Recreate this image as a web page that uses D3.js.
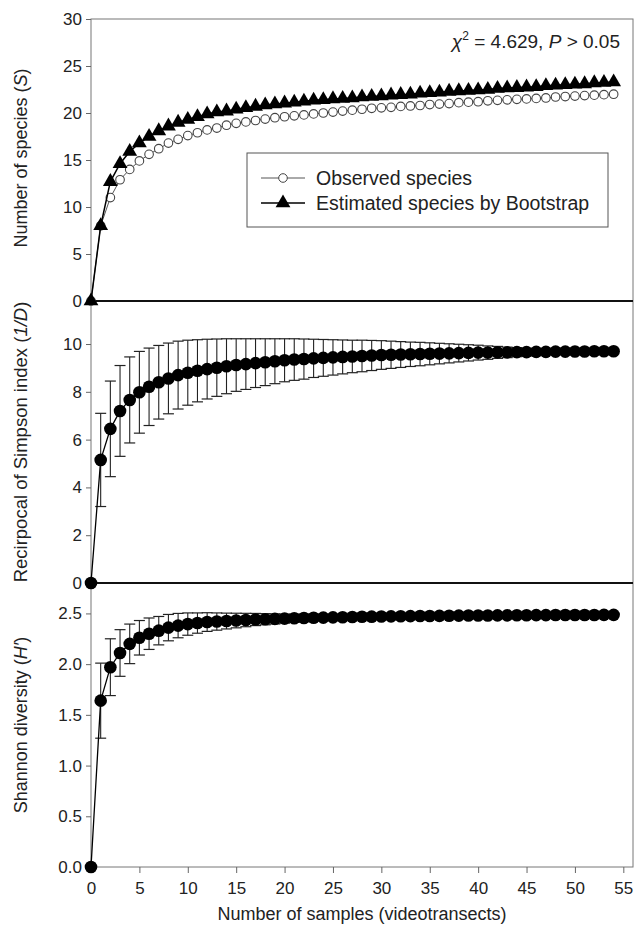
<!DOCTYPE html>
<html>
<head>
<meta charset="utf-8">
<script src="https://d3js.org/d3.v7.min.js"></script>
<style>
    body { margin: 0; background: #fff; }
    svg text { font-family: "Liberation Sans", Arial, sans-serif; fill: #222; }
    .tick line { stroke: #666; }
</style>
</head>
<body>
<svg id="chart" width="642" height="939"></svg>
<script>
// samples 0..54
let samples = d3.range(0, 55);

let observed = [0, 8.0, 11.0, 12.9, 14.0, 14.9, 15.6, 16.2, 16.8, 17.2,
    17.6, 17.9, 18.2, 18.4, 18.7, 18.9, 19.05, 19.2, 19.35, 19.5,
    19.6, 19.7, 19.8, 19.9, 20.0, 20.1, 20.2, 20.3, 20.4, 20.5,
    20.55, 20.6, 20.7, 20.75, 20.8, 20.9, 20.95, 21.0, 21.1, 21.15,
    21.2, 21.3, 21.35, 21.4, 21.45, 21.5, 21.55, 21.6, 21.7, 21.75,
    21.8, 21.85, 21.9, 21.95, 22.0];

let bootstrap = [0, 8.0, 12.7, 14.6, 15.9, 16.8, 17.5, 18.1, 18.6, 19.0,
    19.3, 19.6, 19.9, 20.1, 20.2, 20.4, 20.55, 20.7, 20.85, 20.95,
    21.05, 21.15, 21.25, 21.35, 21.4, 21.5, 21.55, 21.6, 21.7, 21.75,
    21.8, 21.9, 21.95, 22.0, 22.1, 22.15, 22.2, 22.3, 22.35, 22.4,
    22.45, 22.5, 22.6, 22.65, 22.7, 22.75, 22.8, 22.9, 22.95, 23.0,
    23.05, 23.1, 23.2, 23.25, 23.3];

let simpson = [0, 5.15, 6.45, 7.2, 7.66, 7.98, 8.21, 8.4, 8.56, 8.7,
    8.8, 8.88, 8.95, 9.01, 9.07, 9.12, 9.16, 9.2, 9.24, 9.28,
    9.32, 9.35, 9.37, 9.4, 9.42, 9.44, 9.46, 9.48, 9.5, 9.52,
    9.54, 9.55, 9.56, 9.57, 9.58, 9.59, 9.6, 9.61, 9.62, 9.63,
    9.64, 9.64, 9.65, 9.65, 9.66, 9.66, 9.67, 9.67, 9.68, 9.68,
    9.69, 9.69, 9.7, 9.7, 9.7];

let simpsonSD = [0, 1.95, 2.0, 1.9, 1.8, 1.71, 1.62, 1.54, 1.48, 1.42,
    1.36, 1.3, 1.25, 1.2, 1.15, 1.1, 1.06, 1.02, 0.98, 0.94,
    0.9, 0.87, 0.84, 0.8, 0.77, 0.74, 0.71, 0.68, 0.66, 0.63,
    0.6, 0.57, 0.54, 0.51, 0.49, 0.46, 0.43, 0.4, 0.37, 0.34,
    0.31, 0.28, 0.25, 0.22, 0.19, 0.16, 0.13, 0.1, 0.07, 0.05,
    0.03, 0.02, 0.01, 0, 0];

let shannon = [0, 1.64, 1.97, 2.11, 2.2, 2.26, 2.3, 2.33, 2.36, 2.38,
    2.395, 2.405, 2.415, 2.42, 2.425, 2.43, 2.435, 2.44, 2.443, 2.446,
    2.449, 2.452, 2.455, 2.457, 2.459, 2.461, 2.463, 2.465, 2.467, 2.468,
    2.47, 2.471, 2.472, 2.473, 2.474, 2.475, 2.476, 2.477, 2.478, 2.479,
    2.48, 2.48, 2.481, 2.481, 2.482, 2.482, 2.483, 2.483, 2.484, 2.484,
    2.485, 2.485, 2.485, 2.486, 2.486];

let shannonSD = [0, 0.37, 0.28, 0.23, 0.195, 0.17, 0.155, 0.14, 0.13, 0.12,
    0.11, 0.1, 0.092, 0.085, 0.078, 0.072, 0.066, 0.06, 0.055, 0.05,
    0.045, 0.04, 0.036, 0.032, 0.028, 0.025, 0.022, 0.019, 0.016, 0.014,
    0.012, 0.01, 0.008, 0.006, 0.005, 0.004, 0.003, 0.002, 0.001, 0,
    0, 0, 0, 0, 0, 0, 0, 0, 0, 0,
    0, 0, 0, 0, 0];

let xTicks = d3.range(0, 56, 5);
let speciesTicks = [0, 5, 10, 15, 20, 25, 30];
let simpsonTicks = [0, 2, 4, 6, 8, 10];
let shannonTicks = [0, 0.5, 1.0, 1.5, 2.0, 2.5];

let legendLabels = ["Observed species", "Estimated species by Bootstrap"];

let svg = d3.select("#chart");
let left = 91, right = 633;

let x = d3.scaleLinear().domain([0, 56]).range([left, right]);

let panels = [
    {y: d3.scaleLinear().domain([0, 30]).range([301, 19]), ticks: speciesTicks, fmt: d3.format("d")},
    {y: d3.scaleLinear().domain([0, 11.8]).range([583, 301]), ticks: simpsonTicks, fmt: d3.format("d")},
    {y: d3.scaleLinear().domain([0, 2.8]).range([867, 583]), ticks: shannonTicks, fmt: d3.format(".1f")}
];

// frame
svg.append("rect")
    .attr("x", left).attr("y", 19)
    .attr("width", right - left).attr("height", 867 - 19)
    .attr("fill", "none").attr("stroke", "#777").attr("stroke-width", 1);

panels.forEach(function(p) {
    let g = svg.append("g")
        .attr("transform", "translate(" + left + ",0)")
        .call(d3.axisLeft(p.y).tickValues(p.ticks).tickFormat(p.fmt).tickSize(5).tickPadding(4));
    g.select(".domain").remove();
    g.selectAll("text").style("font-size", "17px");
});

// x axis at bottom
let xg = svg.append("g")
    .attr("transform", "translate(0,867)")
    .call(d3.axisBottom(x).tickValues(xTicks).tickSize(6).tickPadding(9));
xg.select(".domain").remove();
xg.selectAll("text").style("font-size", "17px");

// thick zero lines between panels
[301, 583].forEach(function(yy) {
    svg.append("line")
        .attr("x1", left).attr("x2", right)
        .attr("y1", yy).attr("y2", yy)
        .attr("stroke", "#111").attr("stroke-width", 2);
});

// ---- top panel
let y1 = panels[0].y;
let line1 = d3.line().x(function(d, i) { return x(samples[i]); }).y(function(d) { return y1(d); });

svg.append("path").datum(observed)
    .attr("d", line1).attr("fill", "none").attr("stroke", "#555").attr("stroke-width", 1);
svg.append("g").selectAll("circle")
    .data(observed)
    .enter().append("circle")
    .attr("cx", function(d, i) { return x(samples[i]); })
    .attr("cy", function(d) { return y1(d); })
    .attr("r", 4.3)
    .attr("fill", "#fff").attr("stroke", "#444").attr("stroke-width", 1.1);

svg.append("path").datum(bootstrap)
    .attr("d", line1).attr("fill", "none").attr("stroke", "#000").attr("stroke-width", 1.5);
let tri = d3.symbol().type(d3.symbolTriangle).size(95);
svg.append("g").selectAll("path")
    .data(bootstrap)
    .enter().append("path")
    .attr("d", tri)
    .attr("transform", function(d, i) { return "translate(" + x(samples[i]) + "," + y1(d) + ")"; })
    .attr("fill", "#000");

// chi square note
let chi = svg.append("text")
    .attr("x", 620).attr("y", 48)
    .attr("text-anchor", "end")
    .style("font-size", "19px");
chi.append("tspan").style("font-style", "italic").text("χ");
chi.append("tspan").attr("dy", -8).style("font-size", "12px").text("2");
chi.append("tspan").attr("dy", 8).text(" = 4.629, ");
chi.append("tspan").style("font-style", "italic").text("P");
chi.append("tspan").text(" > 0.05");

// legend
let lg = svg.append("g");
lg.append("rect")
    .attr("x", 247).attr("y", 153)
    .attr("width", 361).attr("height", 74)
    .attr("fill", "#fff").attr("stroke", "#555").attr("stroke-width", 1);
legendLabels.forEach(function(lab, i) {
    let ly = 178 + i * 25;
    lg.append("line")
        .attr("x1", 261).attr("x2", 305).attr("y1", ly).attr("y2", ly)
        .attr("stroke", i === 0 ? "#555" : "#000").attr("stroke-width", i === 0 ? 1 : 1.5);
    if (i === 0) {
        lg.append("circle").attr("cx", 283).attr("cy", ly).attr("r", 4.3)
            .attr("fill", "#fff").attr("stroke", "#444");
    } else {
        lg.append("path").attr("d", tri).attr("transform", "translate(283," + ly + ")").attr("fill", "#000");
    }
    lg.append("text")
        .attr("x", 316).attr("y", ly + 7)
        .style("font-size", "19.5px")
        .text(lab);
});

// ---- mean + error bar panels
function drawMeans(vals, sds, y) {
    let g = svg.append("g");
    let rows = vals.map(function(v, i) { return {s: samples[i], m: v, sd: sds[i]}; })
        .filter(function(r) { return r.sd > 0; });
    let bars = g.selectAll(".eb")
        .data(rows)
        .enter().append("g");
    bars.append("line")
        .attr("x1", function(r) { return x(r.s); }).attr("x2", function(r) { return x(r.s); })
        .attr("y1", function(r) { return y(r.m - r.sd); }).attr("y2", function(r) { return y(r.m + r.sd); })
        .attr("stroke", "#222").attr("stroke-width", 1.1);
    [-1, 1].forEach(function(sign) {
        bars.append("line")
            .attr("x1", function(r) { return x(r.s) - 5.5; }).attr("x2", function(r) { return x(r.s) + 5.5; })
            .attr("y1", function(r) { return y(r.m + sign * r.sd); }).attr("y2", function(r) { return y(r.m + sign * r.sd); })
            .attr("stroke", "#222").attr("stroke-width", 1.2);
    });
    g.append("path").datum(vals)
        .attr("d", d3.line().x(function(d, i) { return x(samples[i]); }).y(function(d) { return y(d); }))
        .attr("fill", "none").attr("stroke", "#000").attr("stroke-width", 1.3);
    g.selectAll("circle")
        .data(vals)
        .enter().append("circle")
        .attr("cx", function(d, i) { return x(samples[i]); })
        .attr("cy", function(d) { return y(d); })
        .attr("r", 6.3)
        .attr("fill", "#000");
}
drawMeans(simpson, simpsonSD, panels[1].y);
drawMeans(shannon, shannonSD, panels[2].y);

// axis titles
function yTitle(cy, parts, size) {
    let t = svg.append("text")
        .attr("transform", "translate(27," + cy + ") rotate(-90)")
        .attr("text-anchor", "middle")
        .style("font-size", size + "px");
    parts.forEach(function(p) {
        t.append("tspan").style("font-style", p[1] ? "italic" : "normal").text(p[0]);
    });
}
yTitle(158, [["Number of species (", 0], ["S", 1], [")", 0]], 18);
yTitle(442, [["Recirpocal of Simpson index (", 0], ["1/D", 1], [")", 0]], 18.5);
yTitle(725, [["Shannon diversity (", 0], ["H\u2032", 1], [")", 0]], 18);

svg.append("text")
    .attr("x", 362).attr("y", 920)
    .attr("text-anchor", "middle")
    .style("font-size", "18px")
    .text("Number of samples (videotransects)");
</script>
</body>
</html>
